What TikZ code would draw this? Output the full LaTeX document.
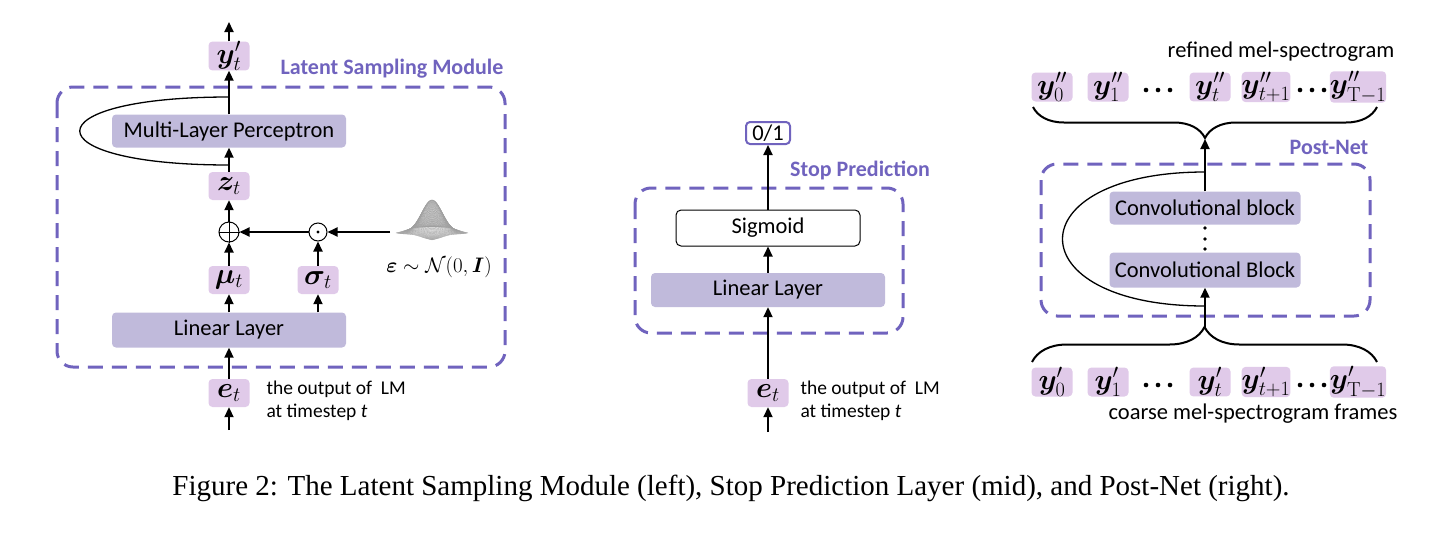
\RequirePackage{fix-cm}
\documentclass[tikz,border=0pt]{standalone}
\usepackage[no-math]{fontspec}
\usepackage{amsmath,amssymb,bm}
\setmainfont{Carlito}
\newfontfamily\capfont{Liberation Serif}
\usetikzlibrary{arrows.meta,decorations.pathreplacing}
\definecolor{lsmpurple}{RGB}{112,99,190}
\definecolor{varfill}{RGB}{224,202,233}
\definecolor{layerfill}{RGB}{192,186,219}
\begin{document}
\begin{tikzpicture}[x=1pt,y=-1pt,
    every node/.style={font=\fontsize{22.5}{27}\selectfont},
    var/.style={fill=varfill,rounded corners=4pt,minimum width=41pt,minimum height=28pt,inner sep=0pt,font=\fontsize{29}{33}\selectfont},
    layer/.style={fill=layerfill,rounded corners=4pt,minimum height=34pt,inner sep=0pt},
    module/.style={draw=lsmpurple,line width=3pt,dash pattern=on 15pt off 9pt,rounded corners=16pt},
    modlabel/.style={text=lsmpurple,font=\fontsize{22}{26}\selectfont\bfseries},
    arr/.style={line width=2pt,-{Triangle[length=10pt,width=9pt]}},
    loopline/.style={line width=1.3pt},
    note/.style={font=\fontsize{19.5}{23}\selectfont,align=left,anchor=west}]
    \useasboundingbox (0,0) rectangle (1455,536);

    \node[var] (yp) at (229,56) {$\bm{y}'_t$};
    \coordinate (ytop) at (229,22);
    \node[modlabel] (lsmlab) at (392,69) {Latent Sampling Module};
    \draw[module] (57,87) rectangle (505,367);
    \node[layer,minimum width=234pt,minimum height=33pt] (mlp) at (229,131) {Multi-Layer Perceptron};
    \node[var] (z) at (229,186) {$\bm{z}_t$};
    \node[draw,circle,line width=1pt,minimum size=20pt,inner sep=0pt] (plus) at (229,232) {};
    \node[draw,circle,line width=1pt,minimum size=18pt,inner sep=0pt] (dot) at (318,232) {};
    \draw[line width=1pt] (plus.north) -- (plus.south) (plus.west) -- (plus.east);
    \fill (dot.center) circle (1.6pt);
    \node[var] (mu) at (229,280) {$\bm{\mu}_t$};
    \node[var] (sigma) at (318,280) {$\bm{\sigma}_t$};
    \node[layer,minimum width=234pt,minimum height=35pt] (lin1) at (229,330) {Linear Layer};
    \node[var] (e1) at (229,393) {$\bm{e}_t$};
    \coordinate (ein1) at (229,430);
    \node[note] (txt1) at (263,401) {the output of\ \ LM\\at timestep \textit{t}};
    \coordinate (gauss) at (390,232);
    \foreach \i in {0,...,36} {
        \pgfmathsetmacro\u{-1+\i/18}
        \draw[gray!75,line width=0.3pt] plot[domain=-1:1,samples=31,smooth] ({432+18*(\u+\x)},{233+3.5*(\u-\x)-33*exp(-3*(\u*\u+\x*\x))});
        \draw[gray!75,line width=0.3pt] plot[domain=-1:1,samples=31,smooth] ({432+18*(\x+\u)},{233+3.5*(\x-\u)-33*exp(-3*(\u*\u+\x*\x))});
    }
    \node[font=\fontsize{21}{25}\selectfont] (eps) at (439,267) {$\bm{\varepsilon}\sim\mathcal{N}(0,\bm{I})$};
    \coordinate (lsmtop) at (229,97);
    \coordinate (lsmbot) at (229,165);
    \draw[arr] (yp) -- (ytop);
    \draw[arr] (mlp) -- (yp);
    \draw[arr] (z) -- (mlp);
    \draw[arr] (plus) -- (z);
    \draw[arr] (mu) -- (plus);
    \draw[arr] (sigma) -- (dot);
    \draw[arr] (dot) -- (plus);
    \draw[arr] (gauss) -- (dot);
    \draw[arr] (lin1) -- (mu);
    \draw[arr] (sigma.south |- lin1.north) -- (sigma);
    \draw[arr] (e1) -- (lin1);
    \draw[arr] (ein1) -- (e1);
    \draw[loopline] (lsmtop) .. controls (30,97) and (30,165) .. (lsmbot);

    \node[draw=lsmpurple,line width=2pt,rounded corners=4pt,fill=white,minimum width=44pt,minimum height=22pt,inner sep=0pt] (out) at (768,133) {0/1};
    \node[modlabel] (splab) at (860,170) {Stop Prediction};
    \draw[module] (635,188) rectangle (903,333);
    \node[draw,line width=1pt,rounded corners=5pt,fill=white,minimum width=184pt,minimum height=36pt,inner sep=0pt] (sigm) at (768,228) {Sigmoid};
    \node[layer,minimum width=234pt] (lin2) at (768,290) {Linear Layer};
    \node[var] (e2) at (768,393) {$\bm{e}_t$};
    \coordinate (ein2) at (768,432);
    \node[note] (txt2) at (797,401) {the output of\ \ LM\\at timestep \textit{t}};
    \draw[arr] (sigm) -- (out);
    \draw[arr] (lin2) -- (sigm);
    \draw[arr] (e2) -- (lin2);
    \draw[arr] (ein2) -- (e2);

    \node (reflab) at (1281,52) {refined mel-spectrogram};
    \foreach \nm/\xx/\lab in {a/1052/0,b/1108/1,c/1210/t,d/1266/t+1} {
        \node[var] (top\nm) at (\xx,87) {$\bm{y}''_{\lab}$};
        \node[var] (bot\nm) at (\xx,382) {$\bm{y}'_{\lab}$};
    }
    \node[var,minimum width=44pt] (tope) at (1358,87) {$\bm{y}''_{\mathrm{T}-1}$};
    \node[var,minimum width=44pt] (bote) at (1358,382) {$\bm{y}'_{\mathrm{T}-1}$};
    \foreach \xx in {1158,1312} {
        \foreach \dx in {-12,0,12} {
            \fill (\xx+\dx,90) circle (2.3pt);
            \fill (\xx+\dx,385) circle (2.3pt);
        }
    }
    \coordinate (tbl) at (1033,107);
    \coordinate (tbr) at (1377,107);
    \coordinate (ttip) at (1205,139);
    \coordinate (bbl) at (1032,362);
    \coordinate (bbr) at (1377,362);
    \coordinate (btip) at (1205,327);
    \draw[line width=2pt,decorate,decoration={brace,amplitude=31pt}] (tbr) -- (tbl);
    \draw[line width=2pt,decorate,decoration={brace,amplitude=35pt}] (bbl) -- (bbr);
    \node[modlabel] (pnlab) at (1329,147) {Post-Net};
    \draw[module] (1041,164) rectangle (1370,316);
    \node[layer,minimum width=191pt,minimum height=33pt] (conv1) at (1205,208) {Convolutional block};
    \node[layer,minimum width=191pt,minimum height=35pt] (conv2) at (1205,270) {Convolutional Block};
    \foreach \yy in {228,239,249} \fill (1205,\yy) circle (1.8pt);
    \coordinate (pntop) at (1205,172);
    \coordinate (pnbot) at (1205,306);
    \draw[loopline] (pntop) .. controls (1015,172) and (1015,306) .. (pnbot);
    \draw[arr] (conv1) -- (ttip);
    \draw[arr] (btip) -- (conv2);
    \node (coarselab) at (1253,414) {coarse mel-spectrogram frames};

    \node[font=\capfont\fontsize{29}{34}\selectfont,anchor=base] (cap) at (731,495) {Figure 2: The Latent Sampling Module (left), Stop Prediction Layer (mid), and Post-Net (right).};
\end{tikzpicture}
\end{document}
